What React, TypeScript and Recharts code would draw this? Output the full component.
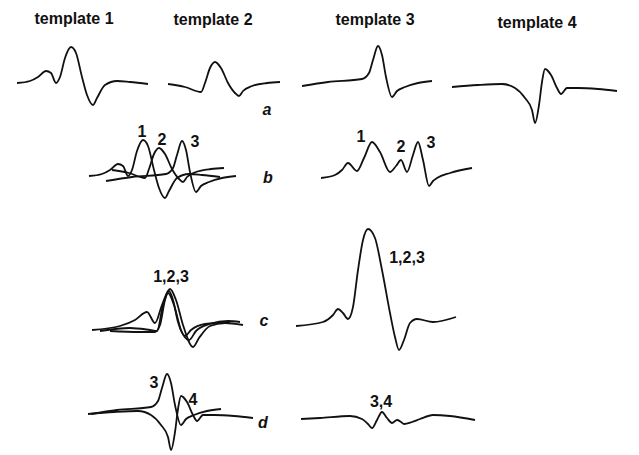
import { LineChart, Line, XAxis, YAxis } from "recharts";

type Pt = { t: number; v: number };
const pts = (a: number[][]): Pt[] => a.map(([t, v]) => ({ t, v }));

// spike templates: time (samples) vs amplitude (positive up)
const template1 = pts([
  [0, 0], [13, 2], [21, 6], [29, 12], [34, 10], [39, 0], [43, 6], [48, 25], [54, 36],
  [59, 30], [65, 6], [70, -12], [76, -22], [80, -15], [88, -2], [100, 2], [113, 1], [131, -1],
]);
const template2 = pts([
  [0, 0], [17, -3], [33, -8], [37, 1], [42, 16], [47, 22], [53, 16], [60, 1], [67, -9],
  [71, -12], [75, -7], [84, -2], [99, 1], [112, 2],
]);
const template3 = pts([
  [0, 0], [26, 4], [60, 7], [67, 13], [71, 26], [76, 40], [80, 31], [84, 9], [90, -11],
  [95, -5], [103, -1], [116, 3], [130, 5],
]);
const template4 = pts([
  [0, 0], [26, 2], [50, 3], [63, -1], [73, -11], [80, -23], [83, -36], [87, -18], [90, 5],
  [93, 18], [99, 12], [105, -1], [109, -7], [115, -1], [126, -1], [146, -2], [165, -4],
]);

// b: overlapping spikes 1,2,3 and their recorded sum
const bShifts = [2, 25, 19];
const bLifts = [0, 6, -5];
const bSum = pts([
  [0, 0], [14, 3], [21, 8], [27, 15], [36, 7], [43, 20], [51, 36], [59, 26], [69, 6],
  [75, 12], [80, 18], [86, 6], [92, 23], [97, 36], [102, 18], [108, -8], [112, -3],
  [116, 0], [129, 5], [151, 10],
]);

// c: aligned spikes 1,2,3 and their sum
const c1 = pts([
  [0, 0], [28, 4], [43, 10], [55, 18], [63, 7], [70, 25], [78, 41], [84, 30], [91, 5],
  [101, -17], [107, -8], [118, 4], [133, 7], [151, 5],
]);
const c2 = pts([
  [8, -1], [38, 2], [58, 0], [65, -1], [71, 25], [76, 37], [82, 25], [89, 0], [97, -10],
  [104, -1], [118, 6], [136, 9], [148, 8],
]);
const c3 = pts([
  [18, -1], [48, -2], [63, -2], [68, 5], [73, 30], [77, 39], [81, 30], [86, 8], [93, -6],
  [99, 0], [113, 6], [138, 8],
]);
const cSum = pts([
  [0, 0], [27, 4], [37, 11], [42, 17], [47, 13], [52, 7], [57, 19], [62, 56], [67, 86],
  [72, 97], [79, 88], [86, 56], [94, 13], [99, -11], [103, -24], [108, -14], [114, 3],
  [121, 7], [137, 4], [160, 9],
]);

// d: spikes 3 and 4 cancelling, and their sum
const dShifts = [5, 2];
const dSum = pts([
  [0, 0], [19, 1], [49, 3], [61, 0], [67, -5], [71, -9], [76, -1], [81, 7], [86, 1],
  [91, -4], [96, -1], [100, -3], [103, -5], [111, -3], [119, 0], [132, 4], [149, 3], [174, -1],
]);

const templateTitles = ["template 1", "template 2", "template 3", "template 4"];
const rowLetters = ["a", "b", "c", "d"];

type Trace = { wave: Pt[]; shift?: number; lift?: number };

const UP = 104;
const DOWN = 60;

function Wave({ left, base, width, traces }: { left: number; base: number; width: number; traces: Trace[] }) {
  return (
    <div style={{ position: "absolute", left, top: base - UP }}>
      <LineChart width={width} height={UP + DOWN} margin={{ top: 0, right: 0, bottom: 0, left: 0 }}>
        <XAxis type="number" dataKey="t" domain={[0, width]} hide />
        <YAxis type="number" domain={[-DOWN, UP]} hide />
        {traces.map((tr, i) => (
          <Line
            key={i}
            data={tr.wave.map((p) => ({ t: p.t + (tr.shift ?? 0), v: p.v + (tr.lift ?? 0) }))}
            dataKey="v"
            type="monotone"
            stroke="#111"
            strokeWidth={1.8}
            dot={false}
            isAnimationActive={false}
          />
        ))}
      </LineChart>
    </div>
  );
}

const labelFont = { fontFamily: "'Liberation Sans', Arial, sans-serif", fontWeight: 700, fill: "#111" };

export default function App() {
  return (
    <div style={{ position: "absolute", left: 0, top: 0, width: 639, height: 455, background: "#fff" }}>
      {/* row a */}
      <Wave left={17} base={83} width={136} traces={[{ wave: template1 }]} />
      <Wave left={168} base={84} width={116} traces={[{ wave: template2 }]} />
      <Wave left={302} base={86} width={134} traces={[{ wave: template3 }]} />
      <Wave left={452} base={87} width={170} traces={[{ wave: template4 }]} />

      {/* row b */}
      <Wave
        left={87}
        base={176}
        width={160}
        traces={[template1, template2, template3].map((w, i) => ({ wave: w, shift: bShifts[i], lift: bLifts[i] }))}
      />
      <Wave left={321} base={178} width={156} traces={[{ wave: bSum }]} />

      {/* row c */}
      <Wave left={92} base={330} width={156} traces={[{ wave: c1 }, { wave: c2 }, { wave: c3 }]} />
      <Wave left={296} base={326} width={164} traces={[{ wave: cSum }]} />

      {/* row d */}
      <Wave
        left={86}
        base={414}
        width={172}
        traces={[template3, template4].map((w, i) => ({ wave: w, shift: dShifts[i] }))}
      />
      <Wave left={301} base={419} width={178} traces={[{ wave: dSum }]} />

      <svg width={639} height={455} style={{ position: "absolute", left: 0, top: 0, pointerEvents: "none" }}>
        <g {...labelFont} fontSize={16} textAnchor="middle">
          <text x={74} y={24}>{templateTitles[0]}</text>
          <text x={213} y={25}>{templateTitles[1]}</text>
          <text x={375} y={25}>{templateTitles[2]}</text>
          <text x={537} y={28}>{templateTitles[3]}</text>
        </g>
        <g {...labelFont} fontSize={16} fontStyle="italic" textAnchor="middle">
          <text x={267} y={115}>{rowLetters[0]}</text>
          <text x={268} y={183}>{rowLetters[1]}</text>
          <text x={264} y={326}>{rowLetters[2]}</text>
          <text x={263} y={428}>{rowLetters[3]}</text>
        </g>
        <g {...labelFont} fontSize={16} textAnchor="middle">
          <text x={142} y={137}>1</text>
          <text x={162} y={145}>2</text>
          <text x={195} y={147}>3</text>
          <text x={361} y={142}>1</text>
          <text x={401} y={152}>2</text>
          <text x={431} y={148}>3</text>
          <text x={171} y={282}>1,2,3</text>
          <text x={407} y={263}>1,2,3</text>
          <text x={154} y={388}>3</text>
          <text x={193} y={405}>4</text>
          <text x={381} y={407}>3,4</text>
        </g>
      </svg>
    </div>
  );
}
